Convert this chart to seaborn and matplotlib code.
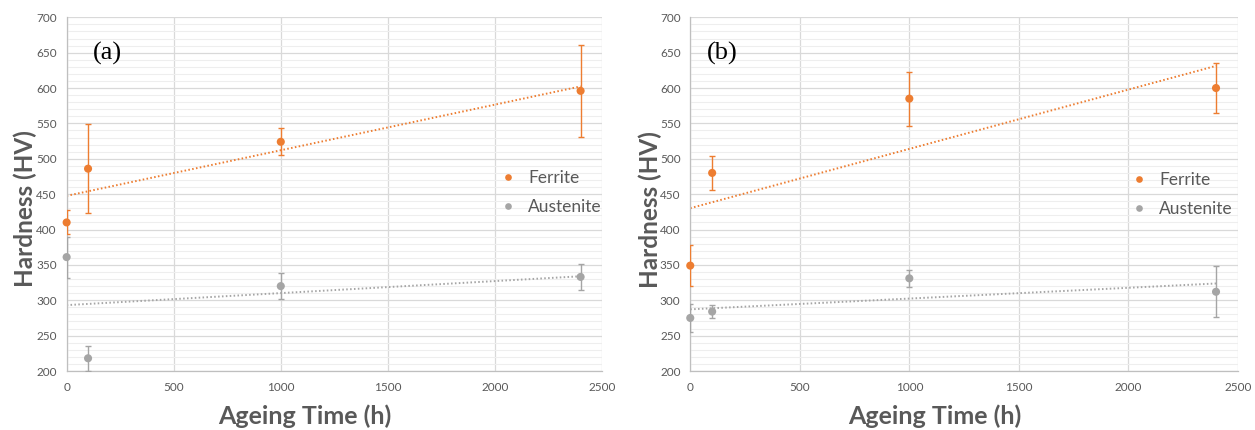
import numpy as np
import pandas as pd
import matplotlib
matplotlib.use('Agg')
import matplotlib.pyplot as plt
import seaborn as sns
from matplotlib.ticker import MultipleLocator, FixedLocator
from matplotlib.lines import Line2D

# ---------------- data ----------------
time_h = [0, 100, 1000, 2400]
ferrite_a = [410, 486, 524, 596]
ferrite_a_err = [17, 63, 19, 65]
austenite_a = [361, 218, 320, 333]
austenite_a_err = [29, 18, 18, 18]
ferrite_b = [349, 480, 585, 600]
ferrite_b_err = [29, 24, 38, 35]
austenite_b = [275, 284, 331, 312]
austenite_b_err = [20, 9, 12, 36]
panel_labels = ['(a)', '(b)']
series_names = ['Ferrite', 'Austenite']
x_ticks = [0, 500, 1000, 1500, 2000, 2500]
y_ticks = list(range(200, 701, 50))
x_label = 'Ageing Time (h)'
y_label = 'Hardness (HV)'

# ---------------- style ----------------
sns.set_style('white')
plt.rcParams['font.family'] = ['Lato', 'DejaVu Sans']

ORANGE = '#ED7D31'
GREY = '#A5A5A5'
TEXT = '#595959'
colors = {'Ferrite': ORANGE, 'Austenite': GREY}

panels = [
    dict(label=panel_labels[0],
         data={'Ferrite': (ferrite_a, ferrite_a_err), 'Austenite': (austenite_a, austenite_a_err)},
         rect=[0.0531, 0.1372, 0.4266, 0.8226],
         xl=(0.444, -0.127), yl=(-0.078, 0.458), lab=(0.049, 0.899), leg=(0.808, 0.5047)),
    dict(label=panel_labels[1],
         data={'Ferrite': (ferrite_b, ferrite_b_err), 'Austenite': (austenite_b, austenite_b_err)},
         rect=[0.550, 0.1372, 0.4364, 0.8226],
         xl=(0.446, -0.127), yl=(-0.0735, 0.455), lab=(0.0305, 0.899), leg=(0.803, 0.4995)),
]

fig = plt.figure(figsize=(12.55, 4.30), dpi=100)

for p in panels:
    ax = fig.add_axes(p['rect'])
    rows = []
    for name in series_names:
        vals, errs = p['data'][name]
        for t, v, e in zip(time_h, vals, errs):
            rows.append(dict(time=t, hv=v, err=e, phase=name))
    df = pd.DataFrame(rows)

    ax.set_xlim(0, 2500)
    ax.set_ylim(200, 700)
    ax.xaxis.set_major_locator(FixedLocator(x_ticks))
    ax.yaxis.set_major_locator(FixedLocator(y_ticks))
    ax.yaxis.set_minor_locator(MultipleLocator(10))
    ax.grid(which='major', axis='both', color='#D9D9D9', lw=0.9, zorder=0)
    ax.grid(which='minor', axis='y', color='#EEEEEE', lw=0.8, zorder=0)
    ax.set_axisbelow(True)

    for name in series_names:
        sub = df[df.phase == name]
        c = colors[name]
        # trendline
        sns.regplot(data=sub, x='time', y='hv', scatter=False, ci=None, ax=ax,
                    line_kws=dict(color=c, lw=1.4, ls=(0, (0.8, 1.2)), zorder=2))
        # error bars
        ax.errorbar(sub['time'], sub['hv'], yerr=sub['err'], fmt='none',
                    ecolor=c, elinewidth=1.0, capsize=2.2, capthick=1.0, zorder=3)
    sns.scatterplot(data=df, x='time', y='hv', hue='phase', palette=colors,
                    hue_order=series_names, s=34, edgecolor='none', ax=ax,
                    zorder=4, clip_on=False, legend=False)

    for s in ['top', 'right']:
        ax.spines[s].set_visible(False)
    for s in ['left', 'bottom']:
        ax.spines[s].set_color('#BFBFBF')
        ax.spines[s].set_linewidth(0.9)

    ax.tick_params(axis='both', which='both', length=0, labelsize=8.5, colors=TEXT)
    ax.tick_params(axis='x', pad=8)
    ax.tick_params(axis='y', pad=7)

    ax.set_xlabel(x_label, fontsize=18, fontweight='bold', color=TEXT)
    ax.set_ylabel(y_label, fontsize=17.5, fontweight='bold', color=TEXT)
    ax.xaxis.label.set_va('center')
    ax.yaxis.label.set_va('center')
    ax.xaxis.set_label_coords(*p['xl'])
    ax.yaxis.set_label_coords(*p['yl'])

    ax.text(p['lab'][0], p['lab'][1], p['label'], transform=ax.transAxes,
            ha='left', va='center', fontsize=19, family='Liberation Serif', color='black')

    handles = [Line2D([], [], ls='none', marker='o', markersize=4.8,
                      markerfacecolor=colors[n], markeredgecolor='none') for n in series_names]
    leg = ax.legend(handles, series_names, loc='center left', bbox_to_anchor=p['leg'],
                    frameon=False, fontsize=12.5, handlelength=1.0, handletextpad=0.67,
                    labelspacing=0.75, borderpad=0, borderaxespad=0)
    for t in leg.get_texts():
        t.set_color(TEXT)

fig.savefig('out.png', dpi=100)
